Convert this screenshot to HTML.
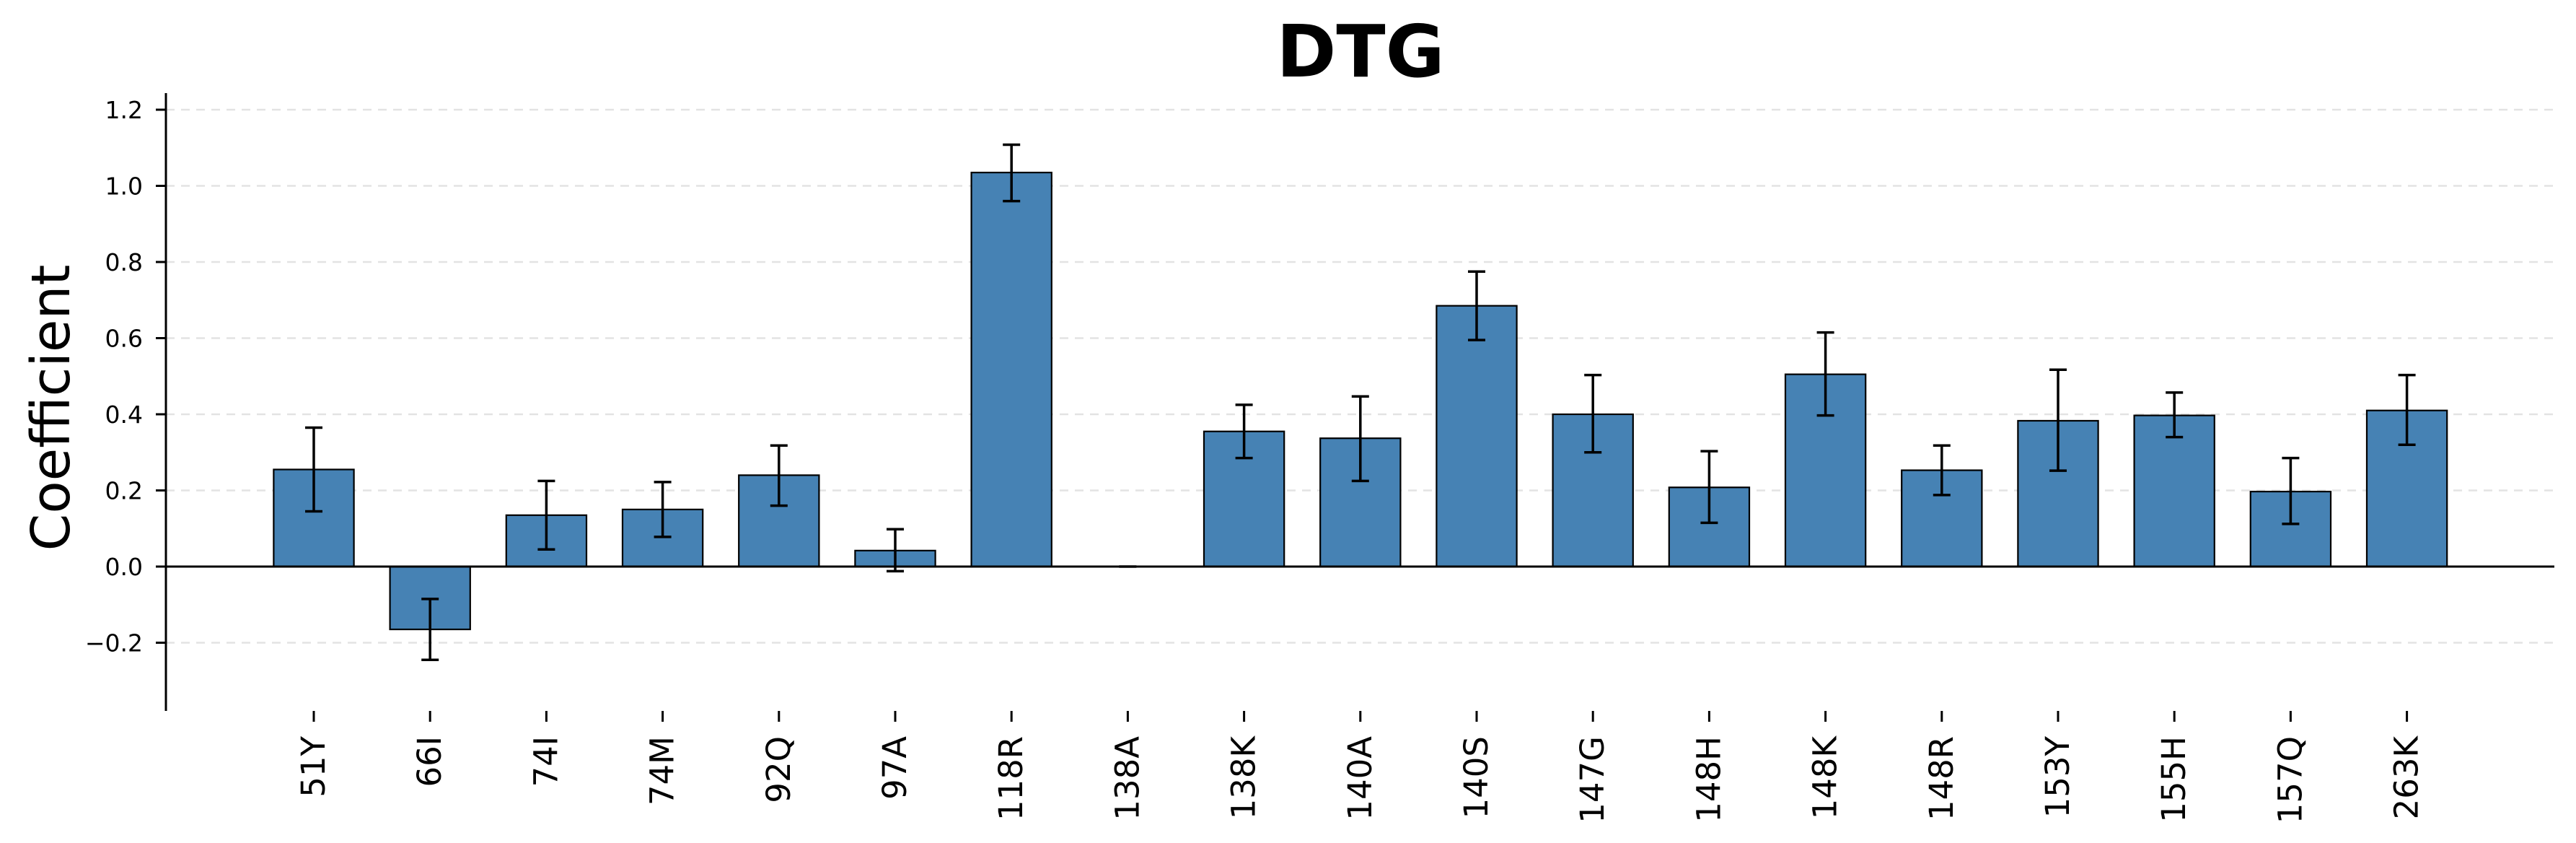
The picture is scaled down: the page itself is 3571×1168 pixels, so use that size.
<!DOCTYPE html>
<html><head><meta charset="utf-8"><style>
html,body{margin:0;padding:0;background:#fff;}
svg{display:block;font-family:"DejaVu Sans","Liberation Sans",sans-serif;}
</style></head><body>
<svg id="chart" width="3571" height="1168" viewBox="0 0 3571 1168" xmlns="http://www.w3.org/2000/svg">
<rect width="3571" height="1168" fill="#fff"/>
<text x="1886" y="106" text-anchor="middle" font-size="100" font-weight="bold">DTG</text>
<text transform="translate(96,565) rotate(-90)" text-anchor="middle" font-size="74">Coefficient</text>
<g id="grid"></g>
<g id="bars"></g>
<g id="errs"></g>
<g id="axes"></g>
</svg>
<script>
const categories = ["51Y","66I","74I","74M","92Q","97A","118R","138A","138K","140A","140S","147G","148H","148K","148R","153Y","155H","157Q","263K"];
const values = [0.255,-0.165,0.135,0.150,0.240,0.042,1.035,0.0,0.355,0.337,0.685,0.400,0.208,0.505,0.253,0.383,0.397,0.197,0.410];
const errLow = [0.145,-0.245,0.045,0.078,0.160,-0.012,0.960,0.0,0.285,0.225,0.595,0.300,0.115,0.397,0.188,0.252,0.340,0.112,0.320];
const errHigh = [0.365,-0.085,0.225,0.222,0.318,0.098,1.108,0.0,0.425,0.447,0.775,0.503,0.303,0.615,0.318,0.517,0.457,0.285,0.503];
const yTicks = [-0.2,0.0,0.2,0.4,0.6,0.8,1.0,1.2];
const yTickLabels = ["\u22120.2","0.0","0.2","0.4","0.6","0.8","1.0","1.2"];

const NS="http://www.w3.org/2000/svg";
const X0=435, STEP=161.2, Y0=785, PER=527.5;
const xScale=i=>X0+i*STEP;
const yScale=v=>Y0-v*PER;
const LEFT=230, RIGHT=3541, TOP=129, BOTTOM=985, BW=STEP*0.69;
function mk(tag,parent,attrs){const e=document.createElementNS(NS,tag);for(const k in attrs)e.setAttribute(k,attrs[k]);document.getElementById(parent).appendChild(e);return e;}

yTicks.forEach((t,i)=>{
  const y=yScale(t);
  if(t!==0){
    const g=mk('line','grid',{x1:LEFT,x2:RIGHT,y1:y,y2:y,stroke:'#e3e3e3','stroke-width':2.5,'stroke-dasharray':'12,9'});
    
    
  }
  const tk=mk('line','axes',{x1:216,x2:LEFT,y1:y,y2:y,stroke:'#000','stroke-width':3});
  
  
  const tl=mk('text','axes',{x:198,y:y+12,'text-anchor':'end','font-size':33});
  tl.textContent=yTickLabels[i];
  
  
});

categories.forEach((c,i)=>{
  const cx=xScale(i), v=values[i];
  if(v!==0){
    const y1=yScale(Math.max(v,0)), y2=yScale(Math.min(v,0));
    const b=mk('rect','bars',{x:cx-BW/2,y:y1,width:BW,height:y2-y1,fill:'#4682b4',stroke:'#000','stroke-width':2.2});
    
    
  }
  const lo=yScale(errLow[i]), hi=yScale(errHigh[i]);
  const e=mk('path','errs',{d:`M${cx},${lo}V${hi}M${cx-12},${lo}H${cx+12}M${cx-12},${hi}H${cx+12}`,stroke:'#000','stroke-width':3.5,fill:'none'});
  
  
  const tk=mk('line','axes',{x1:cx,x2:cx,y1:BOTTOM,y2:BOTTOM+15,stroke:'#000','stroke-width':3});
  
  
  const tl=mk('text','axes',{transform:`translate(${cx+15},1020) rotate(-90)`,'text-anchor':'end','font-size':45});
  tl.textContent=c;
  
  
});

const zl=mk('line','axes',{x1:LEFT,x2:RIGHT,y1:Y0,y2:Y0,stroke:'#000','stroke-width':3});


const sp=mk('line','axes',{x1:LEFT,x2:LEFT,y1:TOP,y2:BOTTOM,stroke:'#000','stroke-width':3});


</script>
</body></html>
